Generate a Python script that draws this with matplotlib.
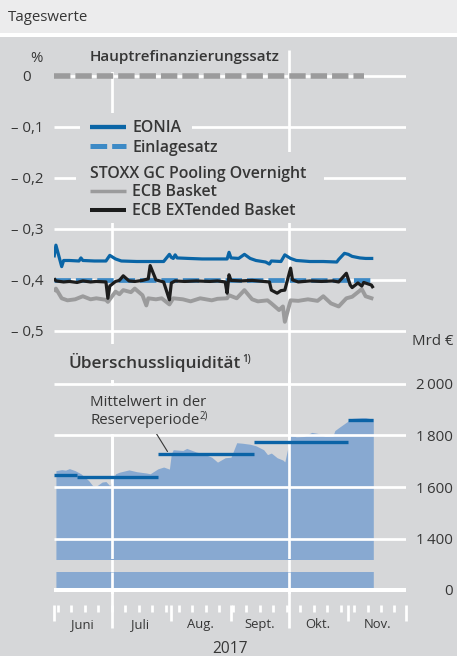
import matplotlib
matplotlib.use('Agg')
import matplotlib.pyplot as plt
import matplotlib.transforms as mtrans
from matplotlib.patches import Rectangle
from matplotlib.lines import Line2D
import pandas as pd

# ---- data (2017, daily values) ----
mro_dates = ['06-01', '11-09']
mro_vals = [0.0, 0.0]

dfr_dates = ['06-01', '11-14']
dfr_vals = [-0.40, -0.40]

eonia_dates = ['06-01', '06-02', '06-05', '06-06', '06-09', '06-14', '06-15', '06-16', '06-22', '06-28',
               '06-30', '07-03', '07-06', '07-14', '07-21', '07-28', '07-31', '08-01', '08-02', '08-03',
               '08-04', '08-10', '08-17', '08-24', '08-30', '08-31', '09-01', '09-05', '09-08', '09-11',
               '09-14', '09-19', '09-21', '09-22', '09-27', '09-29', '10-02', '10-05', '10-12', '10-19',
               '10-26', '10-27', '10-30', '11-01', '11-03', '11-07', '11-10', '11-14']
eonia_vals = [-0.356, -0.332, -0.374, -0.362, -0.362, -0.363, -0.357, -0.362, -0.363, -0.363,
              -0.352, -0.359, -0.363, -0.364, -0.364, -0.364, -0.350, -0.356, -0.358, -0.351,
              -0.357, -0.358, -0.359, -0.359, -0.359, -0.346, -0.357, -0.358, -0.350, -0.358,
              -0.362, -0.365, -0.369, -0.363, -0.364, -0.351, -0.358, -0.362, -0.364, -0.364,
              -0.365, -0.360, -0.348, -0.350, -0.354, -0.357, -0.358, -0.358]

ext_dates = ['06-01', '06-02', '06-06', '06-09', '06-13', '06-16', '06-20', '06-23', '06-28', '06-29',
             '06-30', '07-03', '07-05', '07-07', '07-10', '07-13', '07-17', '07-20', '07-21', '07-24',
             '07-27', '07-28', '07-31', '08-01', '08-03', '08-08', '08-14', '08-21', '08-25', '08-29',
             '08-30', '08-31', '09-01', '09-06', '09-12', '09-18', '09-21', '09-22', '09-25', '09-27',
             '09-29', '10-02', '10-03', '10-06', '10-12', '10-18', '10-24', '10-27', '10-31', '11-02',
             '11-03', '11-06', '11-08', '11-09', '11-13', '11-14']
ext_vals = [-0.397, -0.402, -0.404, -0.403, -0.405, -0.402, -0.404, -0.403, -0.404, -0.436,
            -0.412, -0.403, -0.401, -0.392, -0.402, -0.403, -0.401, -0.398, -0.372, -0.400,
            -0.403, -0.404, -0.439, -0.406, -0.402, -0.403, -0.402, -0.403, -0.402, -0.404,
            -0.426, -0.390, -0.401, -0.402, -0.401, -0.403, -0.404, -0.420, -0.426, -0.421,
            -0.420, -0.377, -0.400, -0.404, -0.402, -0.403, -0.402, -0.404, -0.387, -0.410,
            -0.415, -0.406, -0.412, -0.405, -0.410, -0.416]

basket_dates = ['06-01', '06-02', '06-05', '06-08', '06-12', '06-16', '06-20', '06-23', '06-28', '06-29',
                '07-03', '07-05', '07-07', '07-11', '07-13', '07-17', '07-19', '07-20', '07-24', '07-27',
                '07-31', '08-02', '08-07', '08-11', '08-16', '08-22', '08-25', '08-30', '08-31', '09-04',
                '09-08', '09-12', '09-15', '09-20', '09-22', '09-26', '09-28', '09-29', '10-02', '10-06',
                '10-11', '10-16', '10-19', '10-23', '10-27', '10-31', '11-03', '11-08', '11-10', '11-14']
basket_vals = [-0.423, -0.417, -0.436, -0.440, -0.438, -0.432, -0.438, -0.436, -0.439, -0.443,
               -0.423, -0.428, -0.420, -0.424, -0.417, -0.430, -0.450, -0.436, -0.438, -0.436,
               -0.448, -0.436, -0.438, -0.442, -0.436, -0.440, -0.437, -0.436, -0.430, -0.436,
               -0.420, -0.438, -0.442, -0.440, -0.446, -0.459, -0.452, -0.482, -0.440, -0.441,
               -0.438, -0.441, -0.432, -0.446, -0.452, -0.436, -0.433, -0.418, -0.432, -0.437]

liq_dates = ['06-02', '06-05', '06-07', '06-09', '06-12', '06-15', '06-19', '06-21', '06-23', '06-26',
             '06-28', '06-30', '07-03', '07-05', '07-10', '07-14', '07-19', '07-21', '07-25', '07-28',
             '07-31', '08-01', '08-02', '08-07', '08-09', '08-14', '08-17', '08-22', '08-25', '08-29',
             '09-01', '09-04', '09-07', '09-11', '09-14', '09-18', '09-20', '09-22', '09-25', '09-28',
             '09-29', '10-02', '10-05', '10-09', '10-13', '10-16', '10-20', '10-24', '10-25', '10-27',
             '10-31', '11-03', '11-08', '11-10', '11-13', '11-14']
liq_vals = [1664, 1668, 1666, 1672, 1664, 1652, 1626, 1607, 1604, 1620,
            1622, 1606, 1652, 1658, 1667, 1660, 1655, 1652, 1671, 1678,
            1670, 1730, 1745, 1742, 1750, 1736, 1731, 1716, 1697, 1714,
            1716, 1772, 1770, 1766, 1760, 1745, 1726, 1732, 1714, 1705,
            1698, 1800, 1795, 1796, 1812, 1808, 1796, 1797, 1819, 1830,
            1851, 1866, 1869, 1869, 1864, 1866]

# mean excess liquidity per reserve maintenance period
period_start = ['06-01', '06-13', '07-25', '09-13', '11-01']
period_end = ['06-13', '07-25', '09-13', '11-01', '11-14']
period_mean = [1648, 1639, 1729, 1776, 1858]

rate_ticks = [0, -0.1, -0.2, -0.3, -0.4, -0.5]
rate_labels = ['0', '– 0,1', '– 0,2', '– 0,3', '– 0,4', '– 0,5']
liq_ticks = [2000, 1800, 1600, 1400]
liq_labels = ['2\u2009000', '1\u2009800', '1\u2009600', '1\u2009400']
month_labels = ['Juni', 'Juli', 'Aug.', 'Sept.', 'Okt.', 'Nov.']


def d(lst):
    return pd.to_datetime(['2017-' + s for s in lst])


# ---- style ----
plt.rcParams['font.family'] = ['Open Sans', 'DejaVu Sans']
plt.rcParams['lines.solid_capstyle'] = 'butt'
plt.rcParams['lines.dash_capstyle'] = 'butt'
plt.rcParams['lines.scale_dashes'] = False

W, H, DPI = 457, 656, 100
PANEL = '#d6d7d9'
HEAD = '#ececed'
TXT = '#363636'
EONIA_C = '#0a65a6'
DFR_C = '#3d8ac6'
GREY_C = '#9b9b9c'
BLACK_C = '#1c1c1c'
FILL_C = '#88a9d1'
MEAN_C = '#0b63a6'
GRID_LW = 1.95
FS = 10.8
FS_B = 11
FS_LEG = 11.4

x_start, x_end = pd.Timestamp('2017-06-01'), pd.Timestamp('2017-12-01')

fig = plt.figure(figsize=(W / DPI, H / DPI), dpi=DPI, facecolor=PANEL)
# pixel coordinates, origin top left
pix = mtrans.Affine2D().scale(1 / W, -1 / H).translate(0, 1) + fig.transFigure


def add_ax(x0, y0, x1, y1):
    ax = fig.add_axes([x0 / W, 1 - y1 / H, (x1 - x0) / W, (y1 - y0) / H])
    ax.set_xlim(x_start, x_end)
    ax.axis('off')
    return ax


# header band
fig.add_artist(Rectangle((0, 0), W, 32.5, transform=pix, facecolor=HEAD, lw=0, zorder=0.5))
fig.add_artist(Rectangle((0, 32.5), W, 4.5, transform=pix, facecolor='white', lw=0, zorder=0.5))
fig.text(8, 21, 'Tageswerte', transform=pix, fontsize=FS, color=TXT, va='baseline')

quarter_lines = pd.to_datetime(['2017-07-01', '2017-10-01'])

# background axes in pixel y: vertical grid lines and the date axis
bg = add_ax(54, 37, 406, 656)
bg.set_ylim(656, 37)
bg.vlines(quarter_lines, 50, 628, colors='white', lw=GRID_LW, clip_on=False)
weeks = pd.date_range('2017-06-03', '2017-11-25', freq='7D')
bg.vlines(weeks, 605, 612, colors='white', lw=GRID_LW, clip_on=False)
months = pd.to_datetime(['2017-06-01', '2017-08-01', '2017-09-01', '2017-11-01', '2017-12-01'])
bg.vlines(months, 605, 621, colors='white', lw=GRID_LW, clip_on=False)
month_mids = pd.date_range('2017-06-01', periods=6, freq='MS') + pd.Timedelta(days=15)
for lab, mid in zip(month_labels, month_mids):
    bg.text(mid, 628, lab, ha='center', va='baseline', fontsize=9.4, color=TXT)
fig.text(230, 653, '2017', transform=pix, ha='center', va='baseline', fontsize=11.2, color=TXT)

# ---- top panel: interest rates ----
ax1 = add_ax(54, 40, 406, 345)
ax1.set_ylim(-0.5274, 0.0695)
for v in rate_ticks:
    ax1.axhline(v, color='white', lw=GRID_LW, zorder=1)
ax1.plot(d(mro_dates), mro_vals, color=GREY_C, lw=4, dashes=(11.8, 3.6), zorder=2)
ax1.plot(d(basket_dates), basket_vals, color=GREY_C, lw=2.8, zorder=2)
ax1.plot(d(dfr_dates), dfr_vals, color=DFR_C, lw=3.4, dashes=(11.8, 3.6), zorder=3)
ax1.plot(d(ext_dates), ext_vals, color=BLACK_C, lw=2.3, zorder=4)
ax1.plot(d(eonia_dates), eonia_vals, color=EONIA_C, lw=2.3, zorder=5)
for v, lab in zip(rate_ticks, rate_labels):
    xpos = -0.0653 if v == 0 else -0.031
    ax1.text(xpos, v, lab, transform=ax1.get_yaxis_transform(), ha='right',
             va='center_baseline', fontsize=FS, color=TXT)
fig.text(36, 62, '%', transform=pix, ha='center', va='baseline', fontsize=FS, color=TXT)

# ---- bottom panel: excess liquidity ----
ax2 = add_ax(54, 372, 406, 559)
ax2.set_ylim(1322.73, 2045.2)
ax2.fill_between(d(liq_dates), 0, liq_vals, color=FILL_C, lw=0, zorder=1)
for q in quarter_lines:
    ax2.axvline(q, color='white', lw=GRID_LW, zorder=2)
for v in liq_ticks:
    ax2.axhline(v, color='white', lw=GRID_LW, zorder=2.5)
ax2.hlines(period_mean, d(period_start), d(period_end), colors=MEAN_C, lw=2.4, zorder=3)
for v, lab in zip(liq_ticks, liq_labels):
    ax2.text(1.1335, v, lab, transform=ax2.get_yaxis_transform(), ha='right',
             va='center_baseline', fontsize=FS, color=TXT)

# axis break stub down to zero
ax3 = add_ax(54, 572, 406, 594)
ax3.set_ylim(-15.45, 69.5)
ax3.fill_between(d(liq_dates), 0, liq_vals, color=FILL_C, lw=0, zorder=1)
for q in quarter_lines:
    ax3.axvline(q, color='white', lw=GRID_LW, zorder=2)
ax3.axhline(0, color='white', lw=2.9, zorder=2.5)
ax3.text(1.1335, 0, '0', transform=ax3.get_yaxis_transform(), ha='right',
         va='center_baseline', fontsize=FS, color=TXT)
fig.text(453, 345, 'Mrd €', transform=pix, ha='right', va='baseline', fontsize=FS, color=TXT)

ax2.annotate('', xy=(pd.Timestamp('2017-07-30'), 1738), xytext=(156, H - 433),
             textcoords='figure pixels', annotation_clip=False,
             arrowprops=dict(arrowstyle='-', color=TXT, lw=0.8, shrinkA=0, shrinkB=0))

# ---- boxes that interrupt the grid behind titles and legend ----
for x0, y0, x1, y1 in [(86, 44, 284, 72), (80, 113, 192, 156), (76, 152, 324, 223),
                       (64, 344, 256, 380), (86, 386, 212, 434)]:
    fig.add_artist(Rectangle((x0, y0), x1 - x0, y1 - y0, transform=pix,
                             facecolor=PANEL, lw=0, zorder=1))

# titles
fig.text(90, 61, 'Hauptrefinanzierungssatz', transform=pix, va='baseline',
         fontsize=FS_B, fontweight='semibold', color=TXT)
fig.text(68.5, 368, 'Überschussliquidität', transform=pix, va='baseline',
         fontsize=12.4, fontweight='semibold', color=TXT)
fig.text(242.5, 361.5, '1)', transform=pix, va='baseline', fontsize=7, fontweight='semibold', color=TXT)
fig.text(90, 406.5, 'Mittelwert in der', transform=pix, va='baseline', fontsize=FS, color=TXT)
fig.text(90, 424, 'Reserveperiode', transform=pix, va='baseline', fontsize=FS, color=TXT)
fig.text(200, 418, '2)', transform=pix, va='baseline', fontsize=7, color=TXT)

# legend
legend_rows = [
    ('EONIA', 127, dict(color=EONIA_C, lw=3.1)),
    ('Einlagesatz', 146.2, dict(color=DFR_C, lw=3.6, dashes=(12, 3.6))),
    ('ECB Basket', 191, dict(color=GREY_C, lw=2.5)),
    ('ECB EXTended Basket', 209.7, dict(color=BLACK_C, lw=2.9)),
]
for lab, y, style in legend_rows:
    fig.add_artist(Line2D([90, 126], [y, y], transform=pix, zorder=2, **style))
    fig.text(132.5, y + 5.4, lab, transform=pix, va='baseline', fontsize=FS_LEG,
             fontweight='semibold', color=TXT)
fig.text(90, 178, 'STOXX GC Pooling Overnight', transform=pix, va='baseline',
         fontsize=FS_LEG, fontweight='semibold', color=TXT)

fig.savefig('out.png', dpi=DPI, facecolor=PANEL)
